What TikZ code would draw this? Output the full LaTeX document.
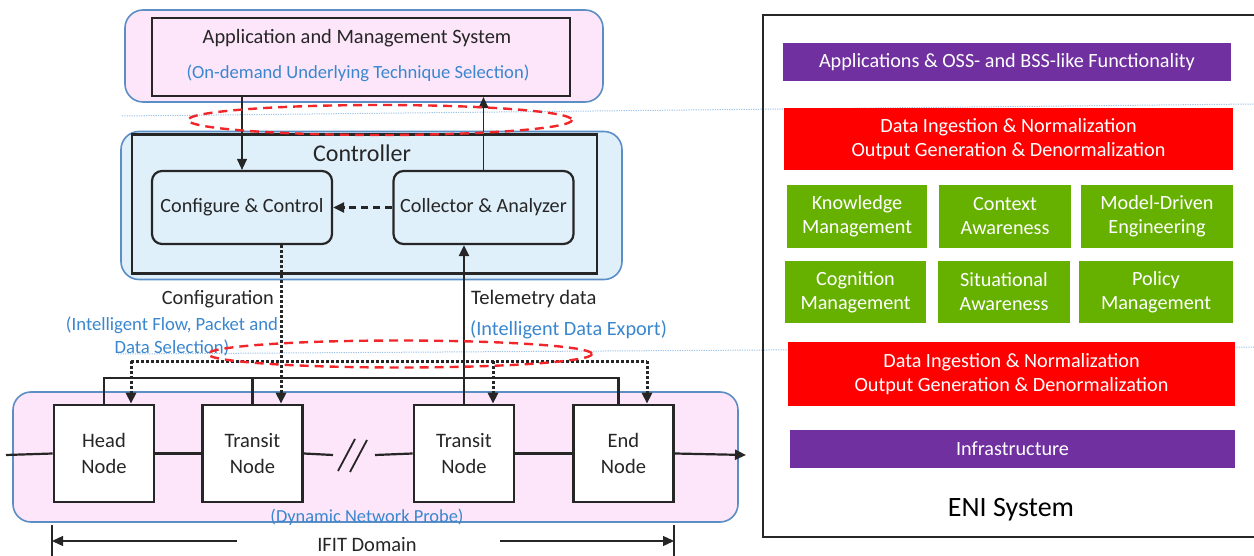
\documentclass[tikz,border=0pt]{standalone}
\usepackage{fontspec}
\setmainfont{Carlito}
\usetikzlibrary{arrows.meta,calc}

\definecolor{grpblue}{HTML}{5B8EC4}
\definecolor{pinkfill}{HTML}{FDE6FA}
\definecolor{ctlfill}{HTML}{DFF0FB}
\definecolor{noteblue}{HTML}{3A86CF}
\definecolor{guide}{HTML}{9CC2E5}
\definecolor{ringred}{HTML}{F0262A}
\definecolor{eniviolet}{HTML}{7030A0}
\definecolor{enired}{HTML}{FF0000}
\definecolor{enigreen}{HTML}{66B100}
\definecolor{ink}{HTML}{262626}

\newcommand{\fsz}[1]{\fontsize{#1}{#1}\selectfont}

\tikzset{
  grp/.style={draw=grpblue, line width=1.6pt, rounded corners=18pt, inner sep=0pt},
  frame/.style={draw=ink, line width=2.2pt, inner sep=0pt},
  ctlbox/.style={draw=ink, line width=2.2pt, rounded corners=10pt, fill=ctlfill,
    minimum width=180, minimum height=73, inner sep=0pt, text=ink,
    font=\fsz{20.2}},
  netnode/.style={draw=ink, line width=2.6pt, fill=white, minimum width=100,
    minimum height=97, inner sep=0pt, align=center, text=ink,
    font=\fontsize{20.5}{26}\selectfont},
  txt/.style={inner sep=0pt, text=ink},
  note/.style={inner sep=0pt, text=noteblue},
  tip/.style={-{Triangle[length=11pt,width=10pt]}},
  thinarr/.style={draw=ink, line width=1.1pt, tip},
  wire/.style={draw=ink, line width=2.2pt},
  dotwire/.style={draw=ink, line width=3pt, dash pattern=on 2.6pt off 2.4pt},
  ring/.style={draw=ringred, line width=2.4pt, dash pattern=on 9pt off 6pt},
  guideline/.style={draw=guide, line width=1pt, dash pattern=on 1.2pt off 1.2pt},
  bar/.style={inner sep=0pt, text=white, align=center,
    font=\fontsize{20.2}{24}\selectfont},
}

\begin{document}
\begin{tikzpicture}[x=1pt,y=-1pt]
\useasboundingbox (0,0) rectangle (1254,556);

% faint guide lines linking the two halves
\draw[guideline] (122,116) -- (1254,104);
\draw[guideline] (118,354) -- (1254,347);

% ---------------- left: IFIT architecture ----------------
% application layer
\node[grp, fill=pinkfill, minimum width=478, minimum height=92] (appgrp) at (364,56) {};
\node[frame, fill=pinkfill, minimum width=418, minimum height=78] (ams) at (361,57) {};
\node[txt, font=\fsz{20.4}] (amstitle) at (357,38) {Application and Management System};
\node[note, font=\fsz{18.6}] (amsnote) at (358,73) {(On-demand Underlying Technique Selection)};

% controller
\node[grp, fill=ctlfill, minimum width=501, minimum height=148] (ctlgrp) at (371.5,205.5) {};
\node[frame, minimum width=465, minimum height=139] (ctl) at (364.5,204) {};
\node[txt, font=\fsz{24}] (ctltitle) at (362,153) {Controller};
\node[ctlbox] (cfg) at (242,207.5) {Configure \& Control};
\node[ctlbox] (col) at (483.5,207.5) {Collector \& Analyzer};

% network domain
\node[grp, fill=pinkfill, minimum width=725, minimum height=130] (netgrp) at (375.5,457) {};
\node[netnode] (hd) at (104,453.5) {Head\\Node};
\node[netnode] (t1) at (252.5,453.5) {Transit\\Node};
\node[netnode] (t2) at (464,453.5) {Transit\\Node};
\node[netnode] (en) at (623.5,453.5) {End\\Node};
\node[note, font=\fsz{18.4}, anchor=base] (probe) at (367,522) {(Dynamic Network Probe)};

% labels of the two channels
\node[txt, font=\fsz{20.3}, anchor=east] (cfglbl) at (274,299) {Configuration};
\node[note, font=\fontsize{18.7}{23}\selectfont, align=center] (cfgnote) at (172,336.5)
  {(Intelligent Flow, Packet and\\Data Selection)};
\node[txt, font=\fsz{20.6}, anchor=west] (tellbl) at (471,299) {Telemetry data};
\node[note, font=\fsz{20.3}, anchor=west] (telnote) at (470,330) {(Intelligent Data Export)};

% controller <-> application
\draw[thinarr] (ams.south -| cfg.north) -- (cfg.north);
\draw[thinarr] (col.north) -- (col.north |- ams.south);
\draw[draw=ink, line width=2.2pt, dash pattern=on 7pt off 5pt, tip] (col.west) -- (cfg.east);

% configuration channel (dotted)
\coordinate (cfgout) at ([xshift=39]cfg.south);
\coordinate (busL) at (131,361);
\coordinate (busT2) at (493,361);
\coordinate (busR) at (647,361);
\draw[dotwire] (busL) -- (busR);
\draw[dotwire, tip] (cfgout) -- (cfgout |- t1.north);
\draw[dotwire, tip] (busL) -- (busL |- hd.north);
\draw[dotwire, tip] (busT2) -- (busT2 |- t2.north);
\draw[dotwire, tip] (busR) -- (busR |- en.north);

% telemetry channel (solid)
\coordinate (telbus) at (0,378);
\draw[wire] (hd.north) -- (hd.north |- telbus) -| ([xshift=-5]en.north);
\draw[wire] (t1.north) -- (t1.north |- telbus);
\draw[draw=ink, line width=2.2pt, tip] (t2.north) -- (t2.north |- col.south);

% data path through the domain
\coordinate (inL) at (6,455);
\coordinate (gapL) at (333,455);
\coordinate (gapR) at (375,455);
\coordinate (outR) at (746,455);
\draw[wire] (inL) -- (hd.west);
\draw[wire] (hd.east) -- (t1.west);
\draw[wire] (t1.east) -- (gapL);
\draw[wire] (gapR) -- (t2.west);
\draw[wire] (t2.east) -- (en.west);
\draw[wire, tip] (en.east) -- (outR);
\draw[draw=ink, line width=1.8pt] (338,471) -- (355,439) (350,472) -- (367,440);

% exchange zones
\draw[ring] (380,120) ellipse [x radius=192, y radius=15];
\draw[ring] (400,354) ellipse [x radius=192, y radius=13.5];

% domain extent
\coordinate (domL) at (52,541);
\coordinate (domR) at (674,541);
\draw[draw=ink, line width=1.6pt] (52,525) -- (52,560) (674,525) -- (674,560);
\node[txt, font=\fsz{20.5}] (ifit) at (367,545) {IFIT Domain};
\draw[draw=ink, line width=1.3pt, tip] (237,541) -- (domL);
\draw[draw=ink, line width=1.3pt, tip] (500,541) -- (domR);

% ---------------- right: ENI system ----------------
\draw[draw=ink, line width=2.2pt] (763,15) rectangle (1262,537);
\node[bar, fill=eniviolet, minimum width=448, minimum height=38] (apps) at (1007,62)
  {Applications \& OSS- and BSS-like Functionality};
\node[bar, fill=enired, minimum width=449, minimum height=62] (ingest1) at (1008.5,139)
  {Data Ingestion \& Normalization\\Output Generation \& Denormalization};
\node[bar, fill=enigreen, minimum width=140, minimum height=63] (km) at (857,216.5)
  {Knowledge\\Management};
\node[bar, fill=enigreen, minimum width=132, minimum height=63] (ca) at (1005,216.5)
  {Context\\Awareness};
\node[bar, fill=enigreen, minimum width=152, minimum height=63] (mde) at (1157,216.5)
  {Model-Driven\\Engineering};
\node[bar, fill=enigreen, minimum width=141, minimum height=62] (cm) at (855.5,292)
  {Cognition\\Management};
\node[bar, fill=enigreen, minimum width=132, minimum height=62] (sa) at (1004,292)
  {Situational\\Awareness};
\node[bar, fill=enigreen, minimum width=154, minimum height=62] (pm) at (1156,292)
  {Policy\\Management};
\node[bar, fill=enired, minimum width=447, minimum height=64] (ingest2) at (1011.5,374)
  {Data Ingestion \& Normalization\\Output Generation \& Denormalization};
\node[bar, fill=eniviolet, minimum width=445, minimum height=38] (infra) at (1012.5,449)
  {Infrastructure};
\node[txt, text=black, font=\fsz{28}] (eni) at (1011,510) {ENI System};

\end{tikzpicture}
\end{document}
